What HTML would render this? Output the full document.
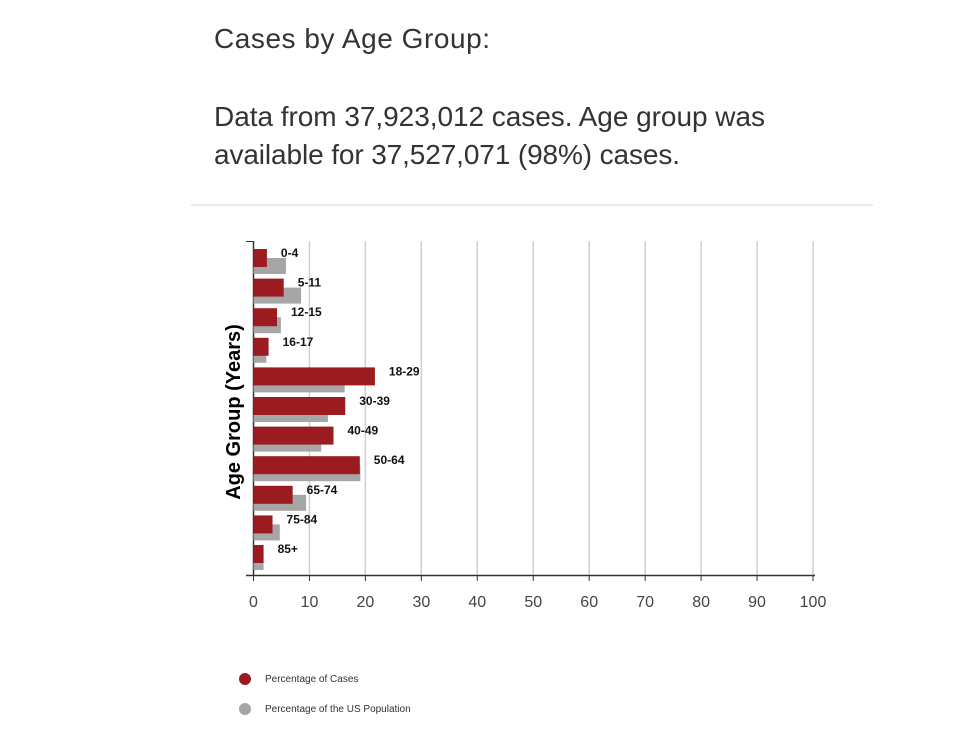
<!DOCTYPE html>
<html><head><meta charset="utf-8"><style>
body{margin:0;background:#fff;}
svg{display:block;font-family:"Liberation Sans",sans-serif;}
</style></head><body>
<svg id="c" width="975" height="730">
<text x="214" y="48" font-size="28" fill="#333" textLength="276">Cases by Age Group:</text>
<text x="214" y="126" font-size="28" fill="#333" textLength="551">Data from 37,923,012 cases. Age group was</text>
<text x="214" y="164" font-size="28" fill="#333" textLength="466">available for 37,527,071 (98%) cases.</text>
<line x1="191" y1="205" x2="873" y2="205" stroke="#e3e3e3" stroke-width="1.5"/>
<g id="grid"></g><g id="bars"></g>
<text transform="translate(240,412) rotate(-90)" text-anchor="middle" font-size="20" font-weight="bold" fill="#000">Age Group (Years)</text>
<circle cx="245" cy="679" r="6" fill="#9b1c20"/>
<text x="265" y="682" font-size="10" fill="#333">Percentage of Cases</text>
<circle cx="245" cy="709" r="6" fill="#a6a6a6"/>
<text x="265" y="712" font-size="10" fill="#333">Percentage of the US Population</text>
</svg>
<script>
const categories=["0-4","5-11","12-15","16-17","18-29","30-39","40-49","50-64","65-74","75-84","85+"];
const casesPct=[2.4,5.4,4.2,2.7,21.7,16.4,14.3,19.0,7.0,3.4,1.8];
const popPct=[5.8,8.5,4.9,2.3,16.3,13.3,12.1,19.1,9.4,4.7,1.8];
const ticks=[0,10,20,30,40,50,60,70,80,90,100];
const NS="http://www.w3.org/2000/svg";
const x=v=>253.5+v*5.595;
const yTop=i=>249+i*29.6;
function mk(t,a,p){const e=document.createElementNS(NS,t);for(const k in a)e.setAttribute(k,a[k]);p.appendChild(e);return e;}
const grid=document.getElementById('grid'),bars=document.getElementById('bars');
ticks.forEach(t=>{
  if(t>0){const l=mk('line',{x1:x(t),x2:x(t),y1:241,y2:575,stroke:'#cfcfcf','stroke-width':1.5},grid);
  
  }
  const tk=mk('line',{x1:x(t),x2:x(t),y1:575,y2:581,stroke:'#333'},grid);
  
  
  const tx=mk('text',{x:x(t),y:607,'text-anchor':'middle','font-size':16,fill:'#444'},grid);tx.textContent=t;
  
  
});
const ax=mk('line',{x1:253.5,x2:253.5,y1:241,y2:576,stroke:'#333','stroke-width':1.5},grid);


const ax2=mk('line',{x1:246,x2:815,y1:575.5,y2:575.5,stroke:'#333','stroke-width':1.5},grid);


const yt=mk('line',{x1:246,x2:253,y1:241.5,y2:241.5,stroke:'#333'},grid);


categories.forEach((c,i)=>{
  const y=yTop(i);
  const g=mk('rect',{x:x(0),y:y+9,width:x(popPct[i])-x(0),height:16,fill:'#a6a6a6'},bars);
  
  
  const r=mk('rect',{x:x(0),y:y,width:x(casesPct[i])-x(0),height:18,fill:'#9b1c20'},bars);
  
  
  const t=mk('text',{x:x(casesPct[i])+14,y:y+8,'font-size':12,'font-weight':'bold',fill:'#111'},bars);t.textContent=c;
  
  
});
</script>
</body></html>
